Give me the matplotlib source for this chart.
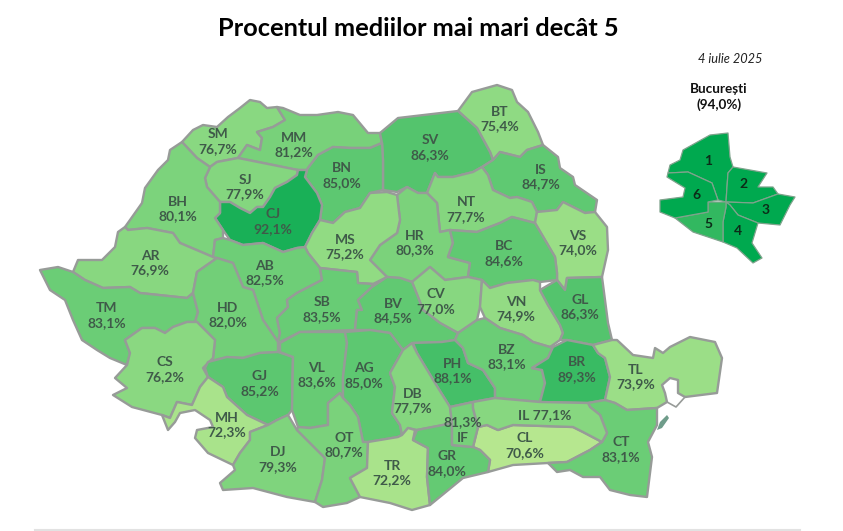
import matplotlib
matplotlib.use('Agg')
from matplotlib import pyplot as plt
from matplotlib.colors import LinearSegmentedColormap, Normalize
from matplotlib.patches import Polygon

plt.rcParams['font.family'] = ['Lato', 'DejaVu Sans']

counties = ['SM', 'MM', 'BT', 'SV', 'BN', 'IS', 'SJ', 'CJ', 'BH', 'NT', 'AR', 'HR', 'MS', 'VS', 'BC',
            'AB', 'CV', 'VN', 'GL', 'TM', 'SB', 'HD', 'BV', 'CS', 'GJ', 'VL', 'AG', 'PH', 'BZ', 'BR',
            'TL', 'DB', 'MH', 'DJ', 'OT', 'CL', 'CT', 'TR', 'GR', 'IF', 'IL']
values = [76.7, 81.2, 75.4, 86.3, 85.0, 84.7, 77.9, 92.1, 80.1, 77.7, 76.9, 80.3, 75.2, 74.0, 84.6,
          82.5, 77.0, 74.9, 86.3, 83.1, 83.5, 82.0, 84.5, 76.2, 85.2, 83.6, 85.0, 88.1, 83.1, 89.3,
          73.9, 77.7, 72.3, 79.3, 80.7, 70.6, 83.1, 72.2, 84.0, 81.3, 77.1]

sectors = ['1', '2', '3', '4', '5', '6']
sector_values = [94.0, 94.0, 94.0, 94.0, 90.0, 94.0]

# outlines, in pixels
shapes = {
    'SM': [(182,142),(193,130),(203,125),(217,127),(228,117),(240,108),(250,100),(260,102),(267,108),(277,107),(285,120),(273,127),(257,132),(262,138),(260,150),(247,145),(238,158),(217,162),(210,167),(197,158)],
    'MM': [(277,107),(283,108),(300,115),(317,115),(338,112),(353,115),(368,133),(380,133),(382,143),(370,148),(350,148),(333,147),(318,155),(308,168),(307,170),(298,170),(287,168),(273,165),(238,158),(247,145),(260,150),(262,138),(257,132),(273,127),(285,120)],
    'SJ': [(210,167),(217,162),(238,158),(273,165),(298,170),(297,175),(287,182),(275,188),(270,197),(263,207),(257,207),(250,213),(240,208),(230,202),(220,202),(207,187),(205,178)],
    'CJ': [(298,170),(307,170),(305,177),(317,193),(322,205),(320,220),(312,233),(305,247),(297,248),(283,252),(263,243),(243,245),(230,240),(223,230),(215,218),(220,213),(220,202),(230,202),(240,208),(250,213),(257,207),(263,207),(270,197),(275,188),(287,182),(297,175)],
    'BH': [(182,142),(170,150),(168,160),(158,170),(145,188),(142,203),(130,220),(125,227),(128,230),(147,228),(173,233),(180,243),(213,257),(215,240),(223,238),(223,230),(215,218),(220,213),(220,202),(207,187),(205,178),(210,167),(197,158)],
    'AR': [(125,227),(118,232),(115,247),(102,260),(78,260),(73,272),(85,280),(103,288),(130,287),(140,293),(187,298),(193,293),(197,272),(217,258),(213,257),(180,243),(173,233),(147,228),(128,230)],
    'TM': [(40,270),(58,267),(73,272),(85,280),(103,288),(130,287),(140,293),(187,298),(193,293),(198,312),(195,322),(187,322),(173,327),(165,333),(155,328),(142,328),(125,340),(130,353),(127,365),(110,358),(97,350),(82,340),(73,320),(65,300),(50,290)],
    'CS': [(127,365),(115,378),(127,388),(113,395),(132,407),(162,415),(170,418),(177,402),(192,405),(200,387),(208,377),(203,368),(213,358),(215,340),(197,322),(187,322),(173,327),(165,333),(155,328),(142,328),(125,340),(130,353)],
    'MH': [(162,415),(168,430),(175,422),(180,413),(195,410),(210,420),(213,427),(197,430),(195,438),(208,453),(233,465),(240,453),(250,440),(250,432),(268,425),(247,415),(227,397),(223,387),(208,377),(200,387),(192,405),(177,402),(170,418)],
    'HD': [(193,293),(197,272),(217,258),(233,263),(243,287),(253,290),(263,320),(278,342),(278,352),(260,353),(243,358),(227,357),(208,362),(205,368),(203,368),(213,358),(215,340),(197,322),(195,322),(198,312)],
    'AB': [(213,257),(215,240),(223,238),(230,240),(243,245),(263,243),(283,252),(297,248),(305,247),(308,253),(320,268),(322,280),(297,293),(287,300),(288,307),(277,318),(280,333),(278,342),(263,320),(253,290),(243,287),(233,263),(217,258)],
    'SB': [(322,280),(320,268),(357,272),(358,283),(373,284),(372,287),(358,300),(362,310),(357,310),(355,330),(300,332),(280,342),(278,342),(280,333),(277,318),(288,307),(287,300),(297,293)],
    'MS': [(305,247),(312,233),(320,220),(333,223),(345,212),(360,208),(370,193),(387,192),(397,195),(400,220),(397,233),(380,245),(370,260),(380,270),(387,277),(373,284),(358,283),(357,272),(320,268),(308,253)],
    'BN': [(307,170),(308,168),(318,155),(333,147),(350,148),(370,148),(382,143),(383,160),(383,190),(370,193),(360,208),(345,212),(333,223),(320,220),(322,205),(317,193),(305,177)],
    'SV': [(380,133),(398,118),(458,111),(477,128),(490,152),(493,160),(482,167),(473,172),(453,177),(438,177),(435,173),(427,193),(418,193),(407,187),(397,192),(383,190),(383,160),(382,143)],
    'BT': [(458,111),(472,92),(497,85),(512,90),(517,102),(528,112),(538,132),(543,145),(527,150),(520,157),(500,152),(493,160),(490,152),(477,128)],
    'IS': [(493,160),(500,152),(520,157),(527,150),(543,145),(558,157),(560,168),(573,177),(575,185),(597,200),(595,212),(585,213),(563,202),(557,210),(537,212),(532,202),(517,197),(510,198),(493,190),(488,175),(482,167)],
    'NT': [(435,173),(438,177),(453,177),(473,172),(482,167),(488,175),(493,190),(510,198),(517,197),(532,202),(537,212),(535,223),(512,217),(500,223),(477,232),(450,230),(440,232),(437,203),(427,193)],
    'HR': [(407,187),(418,193),(427,193),(437,203),(440,232),(450,230),(453,243),(448,257),(470,263),(468,277),(445,280),(430,267),(412,282),(400,278),(387,277),(380,270),(370,260),(380,245),(397,233),(400,220),(397,195)],
    'BC': [(450,230),(477,232),(500,223),(512,217),(535,223),(555,257),(557,273),(557,280),(540,282),(533,280),(507,283),(490,288),(482,280),(468,277),(470,263),(448,257),(453,243)],
    'VS': [(537,212),(557,210),(563,202),(585,213),(595,212),(607,227),(608,250),(602,277),(567,278),(565,290),(557,280),(557,273),(555,257),(535,223)],
    'GL': [(540,290),(557,280),(565,290),(567,278),(602,277),(605,300),(608,323),(612,340),(593,345),(567,340),(560,340),(563,333),(560,325),(548,305)],
    'VN': [(482,280),(490,288),(507,283),(533,280),(540,282),(540,290),(548,305),(560,325),(563,333),(560,340),(550,347),(533,342),(523,335),(500,328),(485,318),(480,307)],
    'CV': [(412,282),(430,267),(445,280),(468,277),(482,280),(480,307),(477,320),(458,333),(440,323),(423,310),(418,297)],
    'BV': [(372,287),(387,277),(400,278),(412,282),(418,297),(423,310),(440,323),(458,333),(455,340),(442,342),(413,343),(403,350),(390,333),(370,330),(355,330),(357,310),(362,310),(358,300)],
    'PH': [(413,343),(442,342),(455,340),(463,348),(468,363),(483,370),(495,388),(495,398),(473,402),(450,407),(435,383),(423,363),(417,353)],
    'BZ': [(455,340),(458,333),(477,320),(485,318),(500,328),(523,335),(533,342),(550,347),(553,347),(548,358),(532,368),(542,370),(545,383),(540,402),(495,398),(495,388),(483,370),(468,363),(463,348)],
    'BR': [(553,347),(567,340),(593,345),(598,353),(605,358),(610,377),(605,400),(588,403),(540,402),(545,383),(542,370),(532,368),(548,358)],
    'TL': [(612,340),(617,340),(633,355),(653,358),(655,348),(663,353),(670,347),(690,337),(715,342),(722,358),(717,393),(685,397),(678,393),(678,380),(670,378),(662,385),(665,393),(667,402),(657,408),(627,410),(615,403),(605,400),(610,377),(605,358),(598,353),(593,345)],
    'IL': [(473,408),(473,402),(495,398),(540,402),(588,403),(590,407),(600,415),(607,433),(602,442),(583,432),(573,427),(513,425),(498,430),(487,425),(478,427)],
    'CL': [(478,427),(487,425),(498,430),(513,425),(573,427),(583,432),(602,442),(590,450),(567,462),(548,463),(513,465),(488,472),(490,460),(480,450),(473,447)],
    'CT': [(588,403),(605,400),(615,403),(627,410),(657,408),(657,425),(648,442),(652,457),(647,497),(630,495),(610,490),(600,477),(583,477),(570,470),(557,472),(548,463),(567,462),(590,450),(602,442),(607,433),(600,415),(590,407)],
    'IF': [(450,407),(473,402),(473,408),(478,427),(473,447),(452,445),(452,423)],
    'GR': [(413,440),(417,430),(443,425),(452,423),(452,445),(473,447),(480,450),(490,460),(488,472),(463,478),(430,505),(427,477),(428,448)],
    'TR': [(368,442),(398,437),(402,435),(408,428),(415,430),(413,440),(428,448),(427,477),(430,505),(412,510),(390,503),(360,497),(350,478),(367,468)],
    'DB': [(412,343),(403,350),(390,373),(395,387),(392,413),(400,425),(402,435),(408,428),(417,430),(443,425),(452,423),(450,407),(435,383),(423,363),(417,353)],
    'AG': [(345,332),(370,330),(390,333),(403,350),(390,373),(395,387),(392,413),(400,425),(402,435),(398,437),(368,442),(363,442),(358,417),(350,405),(343,398),(343,377),(347,343)],
    'VL': [(280,343),(300,332),(345,332),(347,343),(343,377),(343,398),(340,393),(328,403),(328,425),(310,428),(298,427),(292,410),(293,357),(280,352)],
    'GJ': [(205,368),(208,362),(227,357),(243,358),(260,353),(278,352),(293,357),(292,410),(288,415),(277,420),(268,425),(247,415),(227,397),(223,387),(208,377)],
    'DJ': [(250,432),(268,425),(277,420),(288,415),(297,430),(325,458),(322,480),(315,502),(287,497),(253,488),(223,490),(220,483),(235,470),(233,465),(240,453),(250,440)],
    'OT': [(297,430),(298,427),(310,428),(328,425),(328,403),(340,393),(343,398),(350,405),(358,417),(363,442),(368,442),(367,468),(350,478),(360,497),(347,503),(323,507),(315,502),(322,480),(325,458)],
}

sector_shapes = {
    '1': [(728,133),(730,157),(733,167),(728,173),(727,187),(726,202),(718,200),(712,183),(688,172),(668,173),(670,165),(680,160),(683,150),(710,135)],
    '2': [(733,167),(767,173),(758,187),(773,187),(778,194),(753,203),(726,202),(727,187),(728,173)],
    '3': [(778,194),(795,197),(790,205),(780,225),(758,223),(738,215),(730,205),(726,202),(753,203)],
    '4': [(726,202),(730,205),(738,215),(758,223),(752,243),(762,258),(753,263),(737,248),(723,242),(723,222),(726,207)],
    '5': [(708,202),(726,202),(726,207),(723,222),(723,242),(693,232),(675,218),(708,212)],
    '6': [(668,173),(688,172),(712,183),(718,200),(708,202),(708,212),(675,218),(660,212),(660,200),(683,197),(685,188),(667,177)],
}

label_pos = {
    'SM': (218,142), 'MM': (294,145), 'BT': (500,119), 'SV': (430,148), 'BN': (342,176), 'IS': (541,177),
    'SJ': (245,187), 'CJ': (273,222), 'BH': (178,209), 'NT': (466,210), 'AR': (150,263), 'HR': (415,243),
    'MS': (345,247), 'VS': (578,243), 'BC': (504,254), 'AB': (265,273), 'CV': (436,302), 'VN': (516,309),
    'GL': (580,307), 'TM': (107,316), 'SB': (322,310), 'HD': (228,315), 'BV': (393,311), 'CS': (165,370),
    'GJ': (260,384), 'VL': (317,375), 'AG': (364,376), 'PH': (453,371), 'BZ': (507,357), 'BR': (577,370),
    'TL': (636,377), 'DB': (413,401), 'MH': (227,425), 'DJ': (278,460), 'OT': (344,445), 'CL': (525,446),
    'CT': (621,450), 'TR': (392,473), 'GR': (447,464), 'IF': (463,430), 'IL': (545,415),
}
sector_pos = {'1': (708,161), '2': (744,184), '3': (766,210), '4': (738,231), '5': (708,224), '6': (696,195)}

cmap = LinearSegmentedColormap.from_list('ro_green', [(0.0, '#b6e78f'), (0.22, '#8cd982'), (0.45, '#78d17a'),
                                                      (0.6, '#60c972'), (0.72, '#4bc16a'), (0.86, '#2cb65e'),
                                                      (1.0, '#00a94f')])
norm = Normalize(70.6, 94.0)


def pct(v):
    return f'{v:.1f}'.replace('.', ',') + '%'


fig, ax = plt.subplots(figsize=(8.43, 5.31), dpi=100)
ax.set_position([0, 0, 1, 1])
ax.set_xlim(0, 843)
ax.set_ylim(531, 0)
ax.axis('off')

for code, val in zip(counties, values):
    ax.add_patch(Polygon(shapes[code], closed=True, facecolor=cmap(norm(val)), edgecolor='#979b98',
                         linewidth=1.7, joinstyle='round'))
    x, y = label_pos[code]
    if code == 'IF':
        txt = pct(val) + '\nIF'
    elif code == 'IL':
        txt = 'IL ' + pct(val)
    else:
        txt = code + '\n' + pct(val)
    ax.text(x, y, txt, ha='center', va='center', fontsize=10, fontweight='bold', color='#3f5a49', linespacing=1.3)

# lagoon strip and sand bar off the Danube delta
ax.add_patch(Polygon([(657,430),(660,422),(667,415),(669,418),(662,428)], closed=True, facecolor='#6f9c8a', edgecolor='none'))
ax.plot([667, 676, 685], [402, 407, 397], color='#979b98', linewidth=1.2)

for sec, val in zip(sectors, sector_values):
    ax.add_patch(Polygon(sector_shapes[sec], closed=True, facecolor=cmap(norm(val)), edgecolor='#7fa38c',
                         linewidth=0.9, joinstyle='round'))
    x, y = sector_pos[sec]
    ax.text(x, y, sec, ha='center', va='center', fontsize=10, fontweight='bold', color='#0c2c18')

ax.text(418, 29, 'Procentul mediilor mai mari decât 5', ha='center', va='center', fontsize=18.3, fontweight='bold', color='black')
ax.text(730, 59, '4 iulie 2025', ha='center', va='center', fontsize=9.2, style='italic', color='#222222')
ax.text(719, 97, 'București\n(94,0%)', ha='center', va='center', fontsize=9.7, fontweight='bold', color='#111111', linespacing=1.3)

# faint rule at the bottom edge
ax.plot([35, 800], [530, 530], color='#e2e2e2', linewidth=1.5)

fig.savefig('out.png', dpi=100)
